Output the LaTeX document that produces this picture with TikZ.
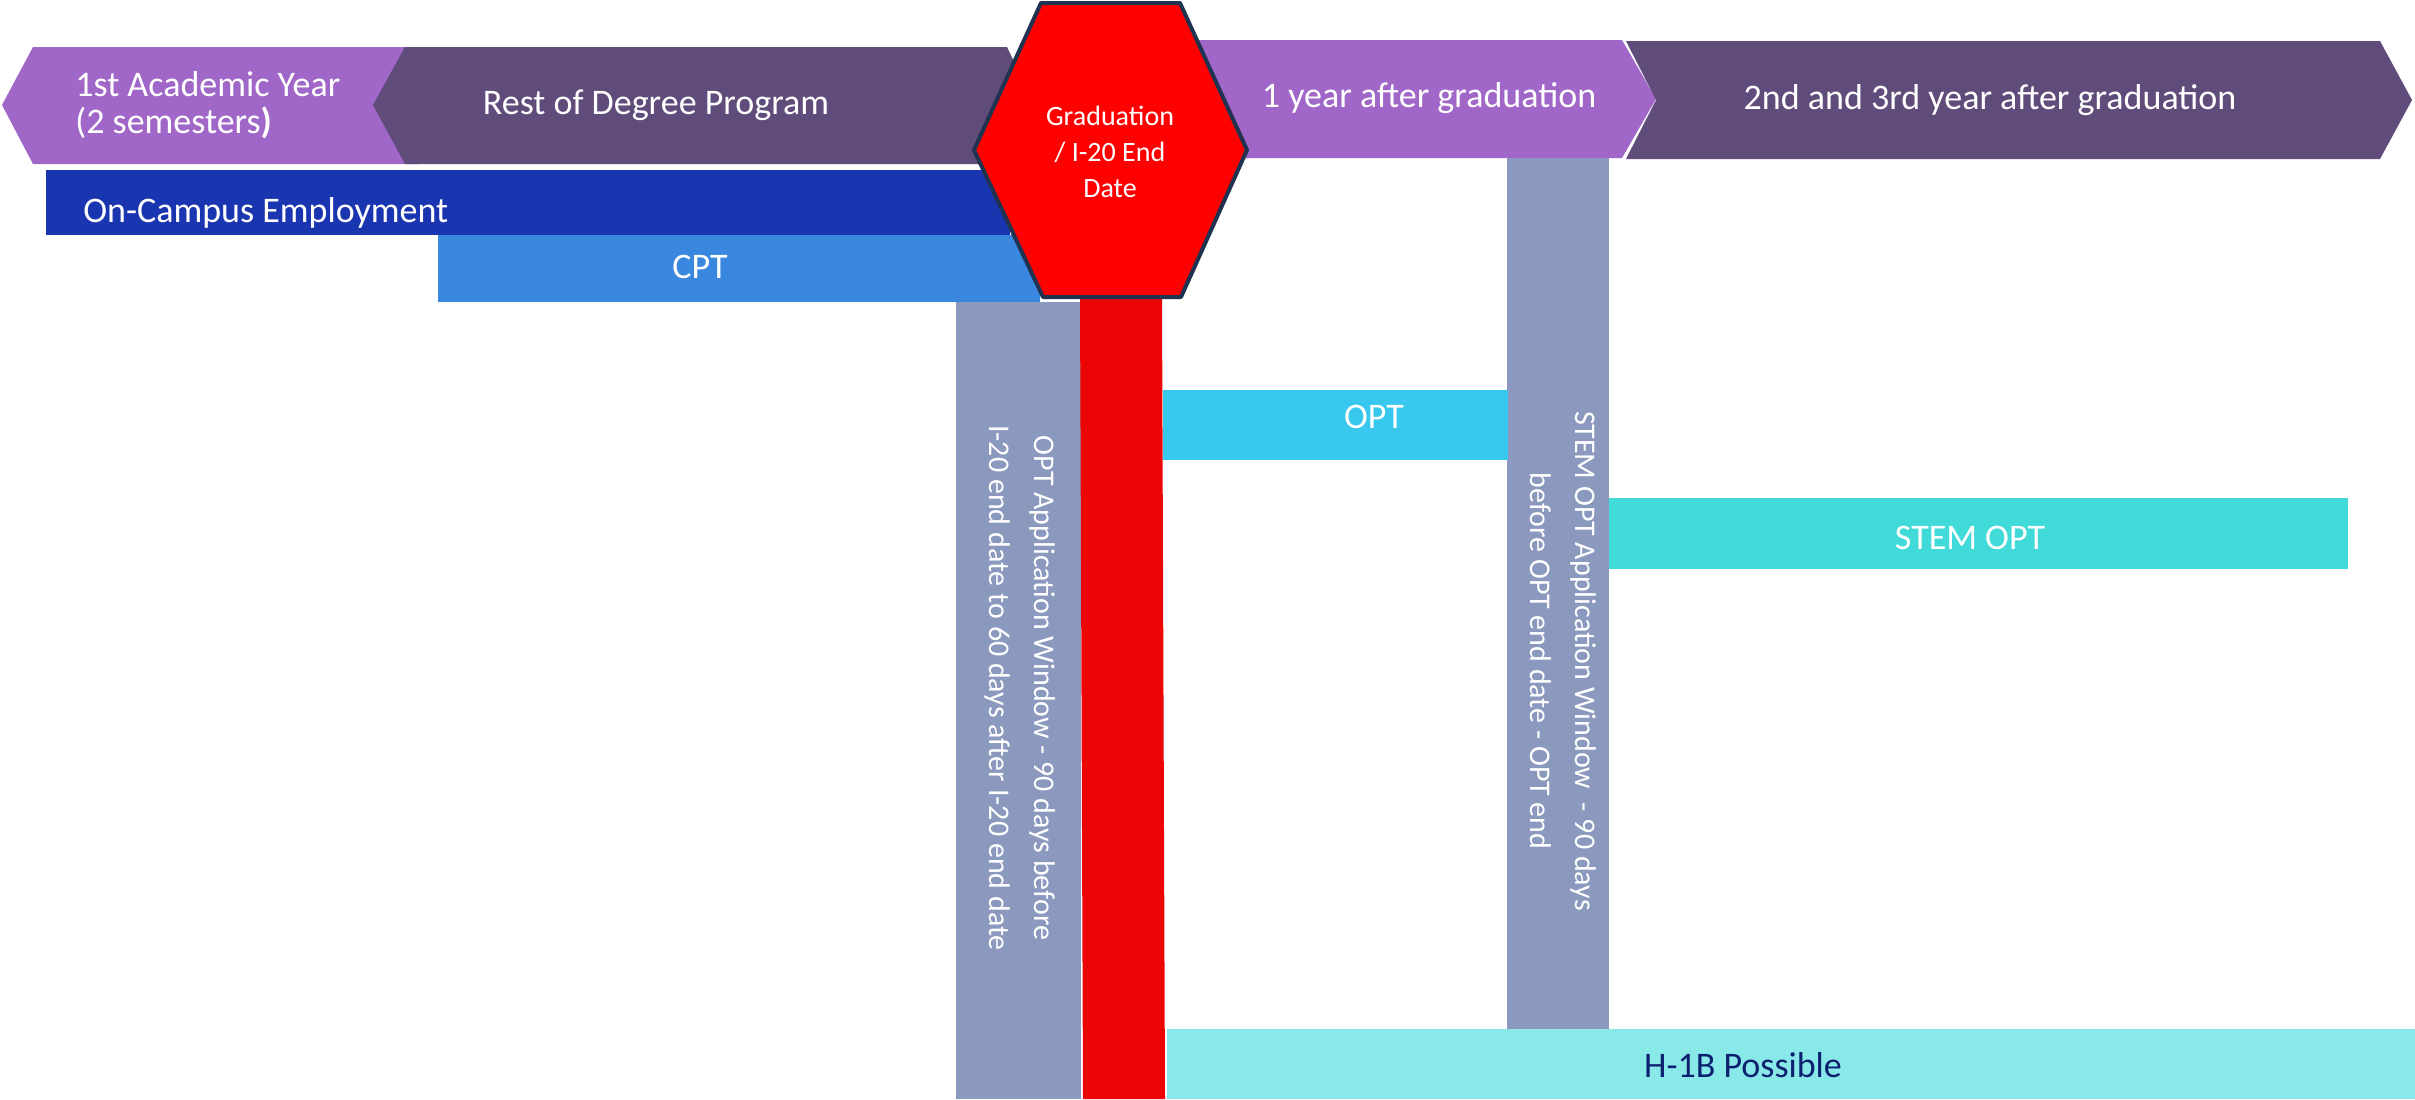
\documentclass[tikz,border=0pt]{standalone}
\usepackage{fontspec}
\setmainfont{Carlito}
\definecolor{lilac}{RGB}{160,102,200}
\definecolor{plum}{RGB}{96,76,122}
\definecolor{campus}{RGB}{26,53,176}
\definecolor{cptblue}{RGB}{58,135,224}
\definecolor{hexred}{RGB}{255,0,0}
\definecolor{hexline}{RGB}{31,51,80}
\definecolor{barred}{RGB}{236,5,5}
\definecolor{window}{RGB}{140,153,190}
\definecolor{optblue}{RGB}{56,200,238}
\definecolor{stem}{RGB}{64,218,216}
\definecolor{hib}{RGB}{136,233,232}
\definecolor{hibtext}{RGB}{13,32,112}
\tikzset{
  lbl/.style={text=white, inner sep=0pt, font=\fontsize{18}{18.5}\selectfont},
  sidelbl/.style={text=white, inner sep=0pt, align=center, rotate=-90,
    font=\fontsize{15}{22.5}\selectfont}
}
\begin{document}
\begin{tikzpicture}[x=0.5pt, y=-0.5pt]
\useasboundingbox (0,0) rectangle (2415,1099);

\fill[lilac] (2,105)--(33,47)--(420,47)--(420,164)--(33,164)--cycle;
\fill[plum] (373,105)--(405,47)--(1007,47)--(1035,105)--(1007,164)--(405,164)--cycle;
\fill[lilac] (1195,40)--(1622,40)--(1656,99)--(1622,158)--(1195,158)--cycle;
\fill[plum] (1626,41)--(2380,41)--(2412,100)--(2380,159)--(1626,159)--(1656,100)--cycle;

\fill[campus] (46,170) rectangle (1010,235);
\fill[cptblue] (438,235) rectangle (1040,302);

\fill[window] (956,302) rectangle (1081,1099);
\fill[window] (1507,158) rectangle (1609,1029);
\fill[barred] (1080,298)--(1162,298)--(1165,1099)--(1083,1099)--cycle;

\fill[optblue] (1163,390) rectangle (1508,460);
\fill[stem] (1609,498) rectangle (2348,569);
\fill[hib] (1167,1029) rectangle (2415,1099);

\filldraw[fill=hexred, draw=hexline, line width=2pt, line join=round]
  (1041,3)--(1180,3)--(1247,150)--(1181,297)--(1043,297)--(974,150)--cycle;

\node[lbl, align=left, anchor=west] (firstyear) at (75,105) {1st Academic Year\\(2 semesters\textbf{)}};
\node[lbl] (restdeg) at (656,105) {Rest of Degree Program};
\node[lbl, align=center, font=\fontsize{14}{18}\selectfont] (grad) at (1110,152) {Graduation\\/ I-20 End\\Date};
\node[lbl] (oneyear) at (1429,98) {1 year after graduation};
\node[lbl] (twoyear) at (1990,100) {2nd and 3rd year after graduation};

\node[lbl, anchor=west] (campus) at (83,213) {On-Campus Employment};
\node[lbl] (cpt) at (700,267) {CPT};
\node[lbl] (opt) at (1374,417) {OPT};
\node[lbl] (stemopt) at (1970,538) {STEM OPT};
\node[lbl, text=hibtext] (hib) at (1743,1065) {H-1B Possible};

\node[sidelbl] (optwin) at (1020,688) {OPT Application Window - 90 days before\\I-20 end date to 60 days after I-20 end date};
\node[sidelbl] (stemwin) at (1563,661) {STEM OPT Application Window\ \ - 90 days\\before OPT end date - OPT end};

\end{tikzpicture}
\end{document}
